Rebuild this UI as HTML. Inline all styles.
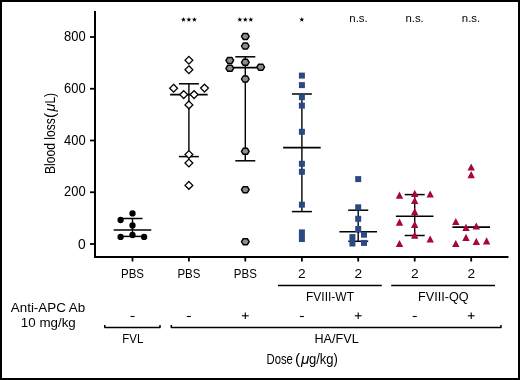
<!DOCTYPE html>
<html><head><meta charset="utf-8"><style>
html,body{margin:0;padding:0;background:#fff;}
svg{display:block;will-change:transform;}
text{font-family:"Liberation Sans",sans-serif;fill:#000;}
</style></head><body>
<svg width="520" height="380" viewBox="0 0 520 380">
<rect x="1" y="1" width="518" height="378" fill="#fff" stroke="#000" stroke-width="2"/>
<!-- axes -->
<path d="M95 11V257H508.5" fill="none" stroke="#000" stroke-width="2"/>
<g stroke="#000" stroke-width="1.8">
<line x1="90" y1="37" x2="95" y2="37"/>
<line x1="90" y1="88.75" x2="95" y2="88.75"/>
<line x1="90" y1="140.5" x2="95" y2="140.5"/>
<line x1="90" y1="192.25" x2="95" y2="192.25"/>
<line x1="90" y1="244" x2="95" y2="244"/>
</g>
<g stroke="#000" stroke-width="1.8">
<line x1="132.5" y1="257" x2="132.5" y2="261.5"/><line x1="188.9" y1="257" x2="188.9" y2="261.5"/><line x1="245.3" y1="257" x2="245.3" y2="261.5"/><line x1="301.9" y1="257" x2="301.9" y2="261.5"/><line x1="358.2" y1="257" x2="358.2" y2="261.5"/><line x1="414.7" y1="257" x2="414.7" y2="261.5"/><line x1="471.2" y1="257" x2="471.2" y2="261.5"/>
</g>
<g font-size="13.8" text-anchor="end">
<text x="85.6" y="41.2" textLength="21.6" lengthAdjust="spacingAndGlyphs">800</text>
<text x="85.6" y="92.9" textLength="21.6" lengthAdjust="spacingAndGlyphs">600</text>
<text x="85.6" y="144.7" textLength="21.6" lengthAdjust="spacingAndGlyphs">400</text>
<text x="85.6" y="196.4" textLength="21.6" lengthAdjust="spacingAndGlyphs">200</text>
<text x="85.6" y="248.7">0</text>
</g>
<g font-size="13.1" text-anchor="middle">
<text x="132.5" y="277.5" textLength="23" lengthAdjust="spacingAndGlyphs">PBS</text>
<text x="188.9" y="277.5" textLength="23" lengthAdjust="spacingAndGlyphs">PBS</text>
<text x="245.3" y="277.5" textLength="23" lengthAdjust="spacingAndGlyphs">PBS</text>
<text x="301.9" y="277.7" font-size="13.7">2</text>
<text x="358.2" y="277.7" font-size="13.7">2</text>
<text x="414.7" y="277.7" font-size="13.7">2</text>
<text x="471.2" y="277.7" font-size="13.7">2</text>
</g>
<g font-size="10.6" text-anchor="middle">
<text x="358.5" y="21.8" textLength="18.4" lengthAdjust="spacingAndGlyphs">n.s.</text>
<text x="414.6" y="21.8" textLength="18.4" lengthAdjust="spacingAndGlyphs">n.s.</text>
<text x="471" y="21.8" textLength="18.4" lengthAdjust="spacingAndGlyphs">n.s.</text>
</g>
<g id="bars">
<line x1="132.5" y1="218.5" x2="132.5" y2="236.4" stroke="#000" stroke-width="1.4"/>
<line x1="122.5" y1="218.5" x2="142.5" y2="218.5" stroke="#000" stroke-width="1.5"/>
<line x1="122.5" y1="236.4" x2="142.5" y2="236.4" stroke="#000" stroke-width="1.5"/>
<line x1="113.7" y1="230.0" x2="151.3" y2="230.0" stroke="#000" stroke-width="1.6"/>
<line x1="188.9" y1="83.8" x2="188.9" y2="156.6" stroke="#000" stroke-width="1.4"/>
<line x1="178.9" y1="83.8" x2="198.9" y2="83.8" stroke="#000" stroke-width="1.5"/>
<line x1="178.9" y1="156.6" x2="198.9" y2="156.6" stroke="#000" stroke-width="1.5"/>
<line x1="170.1" y1="94.6" x2="207.70000000000002" y2="94.6" stroke="#000" stroke-width="1.6"/>
<line x1="245.3" y1="56.8" x2="245.3" y2="160.8" stroke="#000" stroke-width="1.4"/>
<line x1="235.3" y1="56.8" x2="255.3" y2="56.8" stroke="#000" stroke-width="1.5"/>
<line x1="235.3" y1="160.8" x2="255.3" y2="160.8" stroke="#000" stroke-width="1.5"/>
<line x1="226.5" y1="67.6" x2="264.1" y2="67.6" stroke="#000" stroke-width="1.6"/>
<line x1="301.9" y1="94.0" x2="301.9" y2="211.6" stroke="#000" stroke-width="1.4"/>
<line x1="291.9" y1="94.0" x2="311.9" y2="94.0" stroke="#000" stroke-width="1.5"/>
<line x1="291.9" y1="211.6" x2="311.9" y2="211.6" stroke="#000" stroke-width="1.5"/>
<line x1="283.09999999999997" y1="147.6" x2="320.7" y2="147.6" stroke="#000" stroke-width="1.6"/>
<line x1="358.2" y1="210.2" x2="358.2" y2="241.3" stroke="#000" stroke-width="1.4"/>
<line x1="348.2" y1="210.2" x2="368.2" y2="210.2" stroke="#000" stroke-width="1.5"/>
<line x1="348.2" y1="241.3" x2="368.2" y2="241.3" stroke="#000" stroke-width="1.5"/>
<line x1="339.4" y1="231.8" x2="377.0" y2="231.8" stroke="#000" stroke-width="1.6"/>
<line x1="414.7" y1="194.6" x2="414.7" y2="235.5" stroke="#000" stroke-width="1.4"/>
<line x1="404.7" y1="194.6" x2="424.7" y2="194.6" stroke="#000" stroke-width="1.5"/>
<line x1="404.7" y1="235.5" x2="424.7" y2="235.5" stroke="#000" stroke-width="1.5"/>
<line x1="395.9" y1="216.3" x2="433.5" y2="216.3" stroke="#000" stroke-width="1.6"/>
<line x1="452.4" y1="227.1" x2="490.0" y2="227.1" stroke="#000" stroke-width="1.6"/>
</g>
<circle cx="132.5" cy="213.4" r="3.15" fill="#000"/>
<circle cx="120.6" cy="220.0" r="3.15" fill="#000"/>
<circle cx="132.5" cy="225.5" r="3.15" fill="#000"/>
<circle cx="132.5" cy="235.0" r="3.15" fill="#000"/>
<circle cx="120.6" cy="236.9" r="3.15" fill="#000"/>
<circle cx="144.1" cy="236.9" r="3.15" fill="#000"/>
<path d="M188.9 56.4L192.8 60.3L188.9 64.2L185.0 60.3Z" fill="#fff" stroke="#000" stroke-width="1.3"/>
<path d="M188.9 65.8L192.8 69.7L188.9 73.60000000000001L185.0 69.7Z" fill="#fff" stroke="#000" stroke-width="1.3"/>
<path d="M173.6 84.3L177.5 88.2L173.6 92.10000000000001L169.7 88.2Z" fill="#fff" stroke="#000" stroke-width="1.3"/>
<path d="M204.5 84.19999999999999L208.4 88.1L204.5 92.0L200.6 88.1Z" fill="#fff" stroke="#000" stroke-width="1.3"/>
<path d="M183.7 90.69999999999999L187.6 94.6L183.7 98.5L179.79999999999998 94.6Z" fill="#fff" stroke="#000" stroke-width="1.3"/>
<path d="M194.1 90.69999999999999L198.0 94.6L194.1 98.5L190.2 94.6Z" fill="#fff" stroke="#000" stroke-width="1.3"/>
<path d="M188.9 101.0L192.8 104.9L188.9 108.80000000000001L185.0 104.9Z" fill="#fff" stroke="#000" stroke-width="1.3"/>
<path d="M188.9 150.6L192.8 154.5L188.9 158.4L185.0 154.5Z" fill="#fff" stroke="#000" stroke-width="1.3"/>
<path d="M188.9 159.1L192.8 163.0L188.9 166.9L185.0 163.0Z" fill="#fff" stroke="#000" stroke-width="1.3"/>
<path d="M188.9 181.5L192.8 185.4L188.9 189.3L185.0 185.4Z" fill="#fff" stroke="#000" stroke-width="1.3"/>
<path d="M241.45000000000002 36.4L243.25 33.4H247.35000000000002L249.15 36.4L247.35000000000002 39.4H243.25Z" fill="#8c8c8c" stroke="#000" stroke-width="1.45" stroke-linejoin="round"/>
<path d="M241.45000000000002 46.0L243.25 43.0H247.35000000000002L249.15 46.0L247.35000000000002 49.0H243.25Z" fill="#8c8c8c" stroke="#000" stroke-width="1.45" stroke-linejoin="round"/>
<path d="M225.95000000000002 60.4L227.75 57.4H231.85000000000002L233.65 60.4L231.85000000000002 63.4H227.75Z" fill="#8c8c8c" stroke="#000" stroke-width="1.45" stroke-linejoin="round"/>
<path d="M241.45000000000002 62.3L243.25 59.3H247.35000000000002L249.15 62.3L247.35000000000002 65.3H243.25Z" fill="#8c8c8c" stroke="#000" stroke-width="1.45" stroke-linejoin="round"/>
<path d="M225.95000000000002 68.3L227.75 65.3H231.85000000000002L233.65 68.3L231.85000000000002 71.3H227.75Z" fill="#8c8c8c" stroke="#000" stroke-width="1.45" stroke-linejoin="round"/>
<path d="M256.84999999999997 67.2L258.65 64.2H262.75L264.55 67.2L262.75 70.2H258.65Z" fill="#8c8c8c" stroke="#000" stroke-width="1.45" stroke-linejoin="round"/>
<path d="M241.45000000000002 79.0L243.25 76.0H247.35000000000002L249.15 79.0L247.35000000000002 82.0H243.25Z" fill="#8c8c8c" stroke="#000" stroke-width="1.45" stroke-linejoin="round"/>
<path d="M241.45000000000002 151.3L243.25 148.3H247.35000000000002L249.15 151.3L247.35000000000002 154.3H243.25Z" fill="#8c8c8c" stroke="#000" stroke-width="1.45" stroke-linejoin="round"/>
<path d="M241.45000000000002 189.7L243.25 186.7H247.35000000000002L249.15 189.7L247.35000000000002 192.7H243.25Z" fill="#8c8c8c" stroke="#000" stroke-width="1.45" stroke-linejoin="round"/>
<path d="M241.45000000000002 241.7L243.25 238.7H247.35000000000002L249.15 241.7L247.35000000000002 244.7H243.25Z" fill="#8c8c8c" stroke="#000" stroke-width="1.45" stroke-linejoin="round"/>
<rect x="298.9" y="72.6" width="6" height="6" fill="#2b4a84"/>
<rect x="298.9" y="82.1" width="6" height="6" fill="#2b4a84"/>
<rect x="298.9" y="94.2" width="6" height="6" fill="#2b4a84"/>
<rect x="298.9" y="102.6" width="6" height="6" fill="#2b4a84"/>
<rect x="298.9" y="128.8" width="6" height="6" fill="#2b4a84"/>
<rect x="298.9" y="160.8" width="6" height="6" fill="#2b4a84"/>
<rect x="298.9" y="168.8" width="6" height="6" fill="#2b4a84"/>
<rect x="298.9" y="201.7" width="6" height="6" fill="#2b4a84"/>
<rect x="298.9" y="229.4" width="6" height="12.6" fill="#2b4a84"/>
<rect x="355.2" y="176.1" width="6" height="6" fill="#2b4a84"/>
<rect x="355.2" y="204.3" width="6" height="6" fill="#2b4a84"/>
<rect x="355.2" y="215.8" width="6" height="6" fill="#2b4a84"/>
<rect x="355.2" y="226.0" width="6" height="6" fill="#2b4a84"/>
<rect x="361.0" y="231.7" width="6" height="6" fill="#2b4a84"/>
<rect x="361.0" y="239.9" width="6" height="6" fill="#2b4a84"/>
<rect x="349.4" y="234.1" width="6" height="12.4" fill="#2b4a84"/>
<path d="M399.5 191.5L403.2 198.7L395.8 198.7Z" fill="#a5073a"/>
<path d="M414.7 189.70000000000002L418.4 196.9L411.0 196.9Z" fill="#a5073a"/>
<path d="M430.2 190.4L433.9 197.6L426.5 197.6Z" fill="#a5073a"/>
<path d="M414.7 196.9L418.4 204.1L411.0 204.1Z" fill="#a5073a"/>
<path d="M414.7 208.1L418.4 215.29999999999998L411.0 215.29999999999998Z" fill="#a5073a"/>
<path d="M399.5 218.6L403.2 225.79999999999998L395.8 225.79999999999998Z" fill="#a5073a"/>
<path d="M414.7 220.70000000000002L418.4 227.9L411.0 227.9Z" fill="#a5073a"/>
<path d="M414.7 231.5L418.4 238.7L411.0 238.7Z" fill="#a5073a"/>
<path d="M430.2 235.4L433.9 242.6L426.5 242.6Z" fill="#a5073a"/>
<path d="M399.5 239.9L403.2 247.1L395.8 247.1Z" fill="#a5073a"/>
<path d="M471.2 163.4L474.9 170.6L467.5 170.6Z" fill="#a5073a"/>
<path d="M471.2 171.1L474.9 178.29999999999998L467.5 178.29999999999998Z" fill="#a5073a"/>
<path d="M455.8 217.9L459.5 225.1L452.1 225.1Z" fill="#a5073a"/>
<path d="M466.0 223.70000000000002L469.7 230.9L462.3 230.9Z" fill="#a5073a"/>
<path d="M476.3 222.4L480.0 229.6L472.6 229.6Z" fill="#a5073a"/>
<path d="M466.0 233.8L469.7 241.0L462.3 241.0Z" fill="#a5073a"/>
<path d="M455.8 239.9L459.5 247.1L452.1 247.1Z" fill="#a5073a"/>
<path d="M476.3 237.70000000000002L480.0 244.9L472.6 244.9Z" fill="#a5073a"/>
<path d="M486.6 237.20000000000002L490.3 244.4L482.90000000000003 244.4Z" fill="#a5073a"/>
<polygon points="183.40,16.95 184.02,18.75 185.92,18.78 184.40,19.92 184.96,21.74 183.40,20.65 181.84,21.74 182.40,19.92 180.88,18.78 182.78,18.75" fill="#000"/>
<polygon points="188.90,16.95 189.52,18.75 191.42,18.78 189.90,19.92 190.46,21.74 188.90,20.65 187.34,21.74 187.90,19.92 186.38,18.78 188.28,18.75" fill="#000"/>
<polygon points="194.40,16.95 195.02,18.75 196.92,18.78 195.40,19.92 195.96,21.74 194.40,20.65 192.84,21.74 193.40,19.92 191.88,18.78 193.78,18.75" fill="#000"/>
<polygon points="239.80,16.95 240.42,18.75 242.32,18.78 240.80,19.92 241.36,21.74 239.80,20.65 238.24,21.74 238.80,19.92 237.28,18.78 239.18,18.75" fill="#000"/>
<polygon points="245.30,16.95 245.92,18.75 247.82,18.78 246.30,19.92 246.86,21.74 245.30,20.65 243.74,21.74 244.30,19.92 242.78,18.78 244.68,18.75" fill="#000"/>
<polygon points="250.80,16.95 251.42,18.75 253.32,18.78 251.80,19.92 252.36,21.74 250.80,20.65 249.24,21.74 249.80,19.92 248.28,18.78 250.18,18.75" fill="#000"/>
<polygon points="301.80,16.95 302.42,18.75 304.32,18.78 302.80,19.92 303.36,21.74 301.80,20.65 300.24,21.74 300.80,19.92 299.28,18.78 301.18,18.75" fill="#000"/>
<!-- bottom annotations -->
<g fill="none" stroke="#000" stroke-width="1.5" stroke-linejoin="round">
<line x1="278" y1="285.5" x2="381.8" y2="285.5"/>
<line x1="391.2" y1="285.5" x2="495" y2="285.5"/>
<path d="M104.8 325V327.4H160V325"/>
<path d="M171.3 325V327.4H501V325"/>
</g>
<g font-size="12" text-anchor="middle">
<text x="330" y="301" textLength="48" lengthAdjust="spacingAndGlyphs">FVIII-WT</text>
<text x="443.3" y="301" textLength="50.6" lengthAdjust="spacingAndGlyphs">FVIII-QQ</text>
<text x="48" y="312" textLength="74.4" lengthAdjust="spacingAndGlyphs">Anti-APC Ab</text>
<text x="48.3" y="326.8" textLength="55" lengthAdjust="spacingAndGlyphs">10 mg/kg</text>
<text x="132.8" y="343" textLength="21" lengthAdjust="spacingAndGlyphs">FVL</text>
<text x="336.6" y="343" textLength="44.2" lengthAdjust="spacingAndGlyphs">HA/FVL</text>
</g>
<g stroke="#000" stroke-width="1.1">
<line x1="130.5" y1="316.5" x2="134.5" y2="316.5"/><line x1="186.9" y1="316.5" x2="190.9" y2="316.5"/><line x1="241.9" y1="315.8" x2="248.70000000000002" y2="315.8"/><line x1="245.3" y1="312.5" x2="245.3" y2="319.1"/><line x1="299.9" y1="316.5" x2="303.9" y2="316.5"/><line x1="354.8" y1="315.8" x2="361.59999999999997" y2="315.8"/><line x1="358.2" y1="312.5" x2="358.2" y2="319.1"/><line x1="412.7" y1="316.5" x2="416.7" y2="316.5"/><line x1="467.8" y1="315.8" x2="474.59999999999997" y2="315.8"/><line x1="471.2" y1="312.5" x2="471.2" y2="319.1"/>
</g>
<g font-size="15.5">
<text x="266.5" y="364.3" textLength="26.4" lengthAdjust="spacingAndGlyphs">Dose</text>
<text x="295.1" y="364.3">(</text>
<text x="300.9" y="364.3" font-style="italic" font-size="14.5" textLength="8.4" lengthAdjust="spacingAndGlyphs">μ</text>
<text x="308.9" y="364.3" textLength="29" lengthAdjust="spacingAndGlyphs">g/kg)</text>
</g>
<g transform="rotate(-90)" font-size="15.2">
<text x="-174.05" y="55.4" textLength="55.8" lengthAdjust="spacingAndGlyphs">Blood loss</text>
<text x="-118" y="55.4">(</text>
<text x="-111.4" y="55.4" font-style="italic" font-size="14" textLength="8" lengthAdjust="spacingAndGlyphs">μ</text>
<text x="-103.6" y="55.4" textLength="10.6" lengthAdjust="spacingAndGlyphs">L)</text>
</g>
</svg>
</body></html>
